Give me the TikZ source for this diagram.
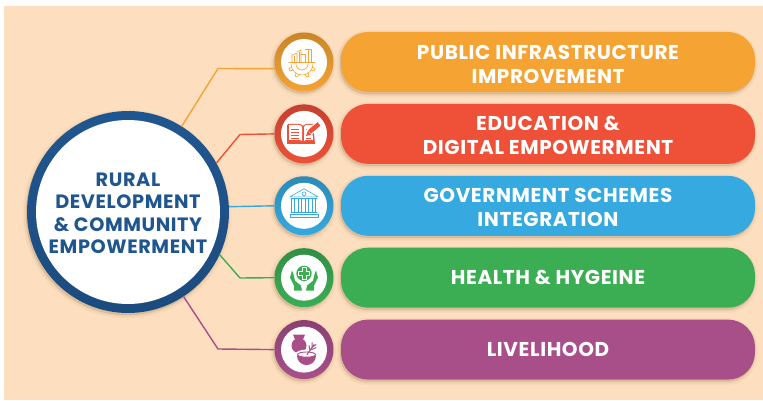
\documentclass[tikz,border=0pt]{standalone}
\usepackage{fontspec}
\setmainfont{Poppins}[LetterSpace=3]
\usetikzlibrary{shadows}

\definecolor{cream}{HTML}{FDDFBF}
\definecolor{navy}{HTML}{20568F}
\definecolor{cOrange}{HTML}{F5A332}
\definecolor{cRed}{HTML}{EE5038}
\definecolor{cBlue}{HTML}{35A9E0}
\definecolor{cGreen}{HTML}{3BAE54}
\definecolor{cPurple}{HTML}{A84F8A}
\definecolor{shade}{HTML}{8A6A45}

\tikzset{
  softshadow/.style={
    preaction={draw=shade, fill=shade, line width=7pt, opacity=.05, transform canvas={xshift=-1pt, yshift=-2pt}},
    preaction={draw=shade, fill=shade, line width=4pt, opacity=.06, transform canvas={xshift=-1pt, yshift=-2pt}},
    preaction={draw=shade, fill=shade, line width=1pt, opacity=.08, transform canvas={xshift=-1pt, yshift=-2pt}}},
  ring/.style={circle, minimum size=59pt, inner sep=0pt, softshadow, top color=#1!82!black, bottom color=#1},
  disc/.style={circle, fill=white, minimum size=46pt, inner sep=0pt},
  bar/.style={rectangle, rounded corners=27pt, minimum width=414pt, minimum height=60pt, softshadow,
    fill=#1, text=white, align=center, font=\fontsize{20}{24}\selectfont\bfseries},
  link/.style={draw=#1, line width=1.4pt},
  thinicon/.style={draw=#1, line width=.6pt, line cap=round, line join=round}
}

\begin{document}
\begin{tikzpicture}[x=1pt, y=1pt, node distance=71.9pt]

  \useasboundingbox (0,0) rectangle (763,400);
  \fill[cream] (4,0) rectangle (763,394);

  \node (hub) [circle, minimum size=202pt, inner sep=0pt, softshadow, top color=navy, bottom color=navy!88!black] at (128,188) {};

  \node (icon1) [ring=cOrange] at (304,338) {};
  \node (icon2) [ring=cRed, below of=icon1] {};
  \node (icon3) [ring=cBlue, below of=icon2] {};
  \node (icon4) [ring=cGreen, below of=icon3] {};
  \node (icon5) [ring=cPurple, below of=icon4] {};

  \node (bar1) [bar=cOrange, right of=icon1, node distance=244pt] {\rule{0pt}{20pt}PUBLIC INFRASTRUCTURE\\IMPROVEMENT};
  \node (bar2) [bar=cRed, right of=icon2, node distance=244pt] {\rule{0pt}{16.5pt}EDUCATION \&\\DIGITAL EMPOWERMENT};
  \node (bar3) [bar=cBlue, right of=icon3, node distance=244pt] {\rule{0pt}{17pt}GOVERNMENT SCHEMES\\INTEGRATION};
  \node (bar4) [bar=cGreen, right of=icon4, node distance=244pt] {HEALTH \& HYGEINE};
  \node (bar5) [bar=cPurple, right of=icon5, node distance=244pt] {LIVELIHOOD};

  \coordinate (via1) at (218,331.5);
  \coordinate (via2) at (240,265.5);
  \coordinate (via4) at (240,122);
  \coordinate (via5) at (218,51);

  \path[link=cOrange] (hub) -- (via1) -- (icon1.193);
  \path[link=cRed] (hub.29) -- (via2) -- (icon2.west);
  \path[link=cBlue] (hub.3) -- (icon3.west);
  \path[link=cGreen] (hub.-25) -- (via4) -- (icon4.west);
  \path[link=cPurple] (hub) -- (via5) -- (icon5.west);

  \node (core) [circle, fill=white, minimum size=184pt, inner sep=0pt, text=navy, align=center,
    font=\fontsize{19.3}{22.6}\selectfont\bfseries] at (hub) {\rule{0pt}{16pt}RURAL\\DEVELOPMENT\\\& COMMUNITY\\EMPOWERMENT};

  \node (disc1) [disc] at (icon1) {};
  \node (disc2) [disc] at (icon2) {};
  \node (disc3) [disc] at (icon3) {};
  \node (disc4) [disc] at (icon4) {};
  \node (disc5) [disc] at (icon5) {};

  % buildings on a gear
  \begin{scope}[shift={(disc1)}, thinicon=cOrange]
    \draw (-15,0) -- (11,0);
    \draw (-12,0) -- (-12,7) -- (-7,9) -- (-7,0);
    \draw (-7,10) -- (-3,12) -- (-3,0);
    \draw (-3,8) -- (1,8) -- (1,0);
    \draw (1,13) -- (7,13) -- (7,0);
    \draw (-10,0) -- (-10,6) (-5,0) -- (-5,10) (4,0) -- (4,12);
    \draw (-13,-2) arc[start angle=180, end angle=360, radius=11];
    \draw (-8,-2) arc[start angle=180, end angle=360, radius=6];
    \foreach \a in {205,245,295,335}
      \draw[shift={(-2,-2)}] (\a-8:11) -- (\a-5:14) -- (\a+5:14) -- (\a+8:11);
  \end{scope}

  % open book and pencil
  \begin{scope}[shift={(disc2)}]
    \fill[cRed] (-17,8) -- (-16,10) -- (-4,10) -- (-1,8) -- (2,10) -- (9,10) -- (11,-10) -- (-17,-10) -- cycle;
    \fill[white] (-15,9) -- (-4,9) -- (-2,7) -- (-2,-7) -- (-4,-6) -- (-15,-6) -- cycle;
    \fill[white] (0,7) -- (2,9) -- (8,9) -- (9,-6) -- (2,-6) -- (0,-7) -- cycle;
    \foreach \y in {5,2,-1,-4}
      \draw[cRed, line width=.7pt] (-13,\y) -- (-5,\y);
    \draw[cRed, line width=.7pt] (2,5) -- (6,5) (2,2) -- (5,2) (2,-4) -- (7,-4);
    \draw[white, line width=7pt] (3,0) -- (15,10);
    \draw[cRed, line width=4.5pt] (5.5,2) -- (15,10);
    \fill[cRed] (2,-2) -- (7,-1) -- (4,3.5) -- cycle;
  \end{scope}

  % bank building
  \begin{scope}[shift={(disc3)}, thinicon=cBlue]
    \draw (-14,9) -- (0,17) -- (14,9) -- cycle;
    \draw (0,12) circle[radius=2];
    \foreach \x in {-11,-4,3,10} {
      \draw (\x-1.5,7) -- (\x-1.5,-6);
      \draw (\x+1.5,7) -- (\x+1.5,-6);
    }
    \draw (-13,7.5) -- (13,7.5);
    \draw (-13,-6) -- (13,-6);
    \draw (-14,-8.5) -- (14,-8.5) -- (14,-11) -- (-14,-11) -- cycle;
  \end{scope}

  % hands holding a cross
  \begin{scope}[shift={(disc4)}]
    \fill[cGreen] (0,4.3) circle[radius=7.7];
    \draw[white, line width=.9pt, line join=round] (-2,10) -- (2,10) -- (2,6.3) -- (5.7,6.3) -- (5.7,2.3) -- (2,2.3) -- (2,-1.4) -- (-2,-1.4) -- (-2,2.3) -- (-5.7,2.3) -- (-5.7,6.3) -- (-2,6.3) -- cycle;
    \fill[cGreen] (-12,7) -- (-14,0) -- (-10,-8) -- (-10,-13) -- (-2,-13) -- (-3,-8) -- (-9,-3) -- (-11,5) -- cycle;
    \fill[cGreen] (12,7) -- (14,0) -- (10,-8) -- (10,-13) -- (2,-13) -- (3,-8) -- (9,-3) -- (11,5) -- cycle;
  \end{scope}

  % sack and bowl of grain
  \begin{scope}[shift={(disc5)}]
    \fill[cPurple] (-5,4) ellipse[x radius=7.5, y radius=7.5];
    \fill[cPurple] (-11,15) -- (1,15) -- (-1,10) -- (-9,10) -- cycle;
    \fill[white] (2.5,-4.5) ellipse[x radius=11, y radius=4.5];
    \fill[cPurple] (-7,-6) arc[start angle=180, end angle=360, radius=9.5] -- cycle;
    \draw[cPurple, line width=.9pt, fill=white] (2.5,-5) ellipse[x radius=9, y radius=2.6];
    \draw[cPurple, line width=1pt, line cap=round] (3,-5) -- (10,5);
    \draw[cPurple, line width=1pt, line cap=round] (6,-1) -- (5,4) (8,2) -- (8,7) (7.5,0) -- (12,2) (9,3) -- (12,5);
  \end{scope}

\end{tikzpicture}
\end{document}
